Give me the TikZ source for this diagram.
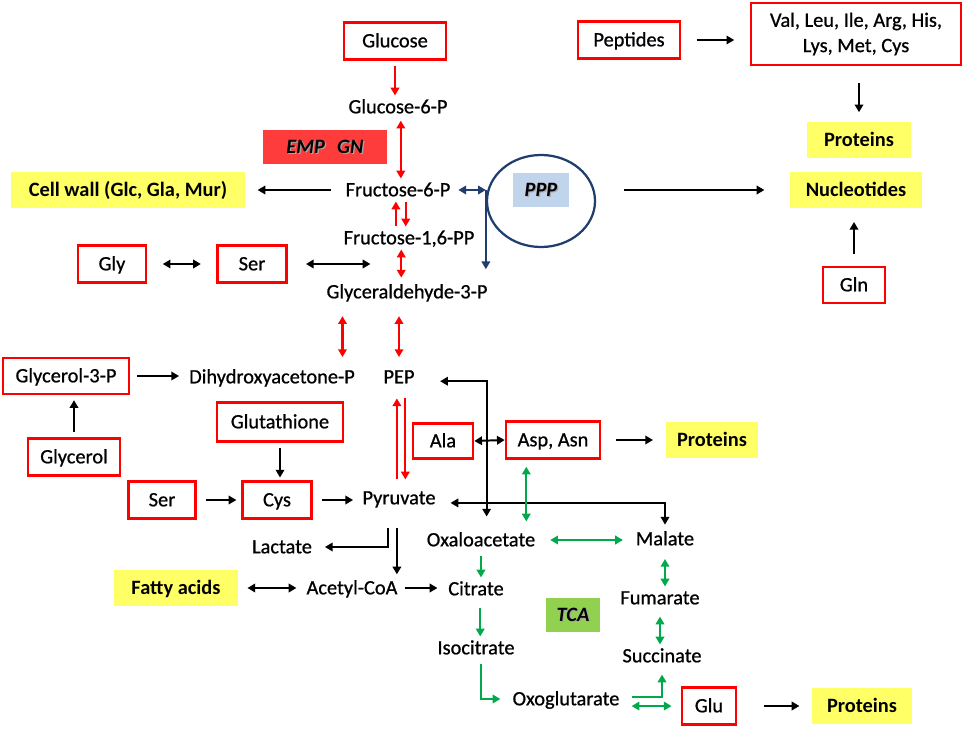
\documentclass[tikz,border=0pt]{standalone}
\usepackage{fontspec}
\setmainfont{Carlito}
\newfontfamily\lblfont{Carlito}[FakeBold=0.8]
\usetikzlibrary{arrows.meta,calc,shapes.geometric}
\definecolor{boxred}{RGB}{255,0,0}
\definecolor{yfill}{RGB}{255,255,102}
\definecolor{empfill}{RGB}{255,60,60}
\definecolor{pppfill}{RGB}{192,212,236}
\definecolor{tcafill}{RGB}{146,208,80}
\definecolor{tcaline}{RGB}{0,170,75}
\definecolor{navy}{RGB}{31,62,110}
\def\shadowlbl#1{\makebox[0pt][l]{\kern0.9pt\raisebox{-0.9pt}{\textcolor{black!35}{#1}}}#1}

\tikzset{
  base/.style={font=\fontsize{14.5}{18}\lblfont, inner sep=2pt},
  txt/.style={base, text height=10.5pt, text depth=1.5pt},
  rbox/.style={txt, draw=boxred, line width=1.8pt, minimum width=#1, minimum height=0.92cm},
  ybox/.style={txt, fill=yfill, font=\fontsize{14.5}{18}\selectfont\bfseries, minimum width=#1, minimum height=0.88cm},
  tagbox/.style 2 args={txt, fill=#1, minimum width=#2, minimum height=0.87cm,
    font=\fontsize{14.5}{18}\selectfont\bfseries\itshape},
  blkar/.style={line width=1.4pt, black},
  redar/.style={line width=1.5pt, boxred},
  grnar/.style={line width=1.5pt, tcaline},
  bluar/.style={line width=1.5pt, navy},
}

\begin{document}
\begin{tikzpicture}[x=0.025cm, y=-0.025cm, >={Triangle[length=5.5pt,width=6pt]}]
  \useasboundingbox (0,0) rectangle (964,728);
  %%%%% GLYCOLYSIS %%%%%
  \node[rbox=2.55cm] (glc) at (395,41) {Glucose};
  \node[txt] (glcsix) at (398,107) {Glucose-6-P};
  \node[tagbox={empfill}{3.08cm}] (emp) at (325,147) {\shadowlbl{EMP\hspace{0.6em}GN}};
  \node[txt] (fru) at (398,190) {Fructose-6-P};
  \node[txt] (frupp) at (409,238) {Fructose-1,6-PP};
  \node[txt] (gap) at (407,292) {Glyceraldehyde-3-P};
  \node[txt] (dhap) at (272,377) {Dihydroxyacetone-P};
  \node[txt] (pep) at (399,377) {PEP};
  \node[txt] (pyr) at (399,498) {Pyruvate};
  \node[txt] (lac) at (282,547) {Lactate};
  \node[txt] (accoa) at (352,588) {Acetyl-CoA};
  \node[ybox=5.83cm] (cellwall) at (128,190) {Cell wall (Glc, Gla, Mur)};
  \node[ybox=3.1cm] (fatty) at (176,588) {Fatty acids};

  %%%%% PPP %%%%%
  \node[ellipse, draw=navy, line width=1.6pt, minimum width=2.7cm, minimum height=2.3cm] (ppp) at (541,201) {};
  \node[tagbox={pppfill}{1.4cm}] (pppl) at (541,190) {\shadowlbl{PPP}};
  \node[ybox=3.3cm] (nucl) at (856,190) {Nucleotides};
  \node[ybox=2.6cm] (prottop) at (859,140) {Proteins};
  \node[rbox=2.55cm] (pept) at (629,40) {Peptides};
  \node[base, draw=boxred, line width=1.8pt, minimum width=5.25cm, minimum height=1.55cm, align=center] (aa) at (856,34)
    {Val, Leu, Ile, Arg, His,\\Lys, Met, Cys};
  \node[rbox=1.55cm, minimum height=0.9cm] (gln) at (854,285) {Gln};

  %%%%% AMINO ACIDS %%%%%
  \node[rbox=1.7cm] (gly) at (112,264) {Gly};
  \node[rbox=1.72cm] (sertop) at (252,264) {Ser};
  \node[rbox=3.15cm, minimum height=0.9cm] (glycthree) at (66,376) {Glycerol-3-P};
  \node[rbox=2.3cm] (glyc) at (74,457) {Glycerol};
  \node[rbox=3.15cm, minimum height=0.97cm] (gsh) at (280,422) {Glutathione};
  \node[rbox=1.68cm] (serlow) at (162,500) {Ser};
  \node[rbox=1.72cm] (cys) at (277,500) {Cys};
  \node[rbox=1.5cm, minimum height=0.88cm] (ala) at (443,441) {Ala};
  \node[rbox=2.35cm] (asp) at (553,440) {Asp, Asn};
  \node[ybox=2.3cm, minimum height=0.9cm] (protmid) at (712,440) {Proteins};

  %%%%% TCA %%%%%
  \node[txt] (oaa) at (481,540) {Oxaloacetate};
  \node[txt] (mal) at (665,539) {Malate};
  \node[txt] (cit) at (476,589) {Citrate};
  \node[tagbox={tcafill}{1.35cm}] (tca) at (573,615) {\shadowlbl{TCA}};
  \node[txt] (fum) at (660,598) {Fumarate};
  \node[txt] (iso) at (476,648) {Isocitrate};
  \node[txt] (suc) at (662,656) {Succinate};
  \node[txt] (oxo) at (566,699) {Oxoglutarate};
  \node[rbox=1.35cm] (glu) at (709,706) {Glu};
  \node[ybox=2.48cm] (protbot) at (862,706) {Proteins};

  %%%%% ARROWS %%%%%
  \draw[redar, ->, shorten <=3.5pt] (glc.south) -- (glc.south |- glcsix.north);
  \draw[redar, <->, shorten <=1.5pt] ([xshift=2pt]glcsix.south) -- ([xshift=2pt]glcsix.south |- fru.north);
  \draw[redar, ->] ([xshift=-1.5pt]fru.south |- frupp.north) -- ([xshift=-1.5pt]fru.south);
  \draw[redar, ->] ([xshift=5.5pt]fru.south) -- ([xshift=5.5pt]fru.south |- frupp.north);
  \draw[redar, <->, shorten >=2pt] ([xshift=-5.5pt]frupp.south) -- ([xshift=-5.5pt]frupp.south |- gap.north);
  \draw[redar, <->, shorten <=9pt, shorten >=6pt] ([xshift=13.5pt]gap.south west) -- ([xshift=13.5pt]gap.south west |- dhap.north);
  \draw[redar, <->, shorten <=9pt, shorten >=6pt] (pep.north |- gap.south) -- (pep.north);
  \draw[redar, ->, shorten <=5pt, shorten >=7pt] ([xshift=-1.5pt]pyr.north) -- ([xshift=-1.5pt]pyr.north |- pep.south);
  \draw[redar, ->, shorten <=7pt, shorten >=5pt] ([xshift=4.5pt]pep.south) -- ([xshift=4.5pt]pep.south |- pyr.north);

  \draw[bluar, <->, shorten <=3.5pt] (fru.east) -- (fru.east -| ppp.west);
  \draw[bluar, ->, shorten >=8pt] (fru.east -| ppp.west) -- (ppp.west |- gap.north);

  \draw[blkar, ->, line width=2pt, shorten <=8.5pt, shorten >=9pt] (fru.west) -- (cellwall.east);
  \draw[blkar, ->, line width=2pt, shorten <=20pt, shorten >=18pt] (ppp.east |- nucl.west) -- (nucl.west);
  \draw[blkar, ->, shorten <=11pt, shorten >=11pt] (pept.east) -- (pept.east -| aa.west);
  \draw[blkar, ->, shorten <=12pt, shorten >=7pt] (aa.south -| prottop.north) -- (prottop.north);
  \draw[blkar, ->, shorten <=8pt, shorten >=10pt] (gln.north) -- (gln.north |- nucl.south);
  \draw[blkar, <->, shorten <=11pt, shorten >=11pt] (gly.east) -- (sertop.west);
  \draw[blkar, <->, shorten <=13pt] (sertop.east) -- ([xshift=-26pt]sertop.east -| gap.center);
  \draw[blkar, ->, shorten <=5pt, shorten >=5pt] (glycthree.east) -- (glycthree.east -| dhap.west);
  \draw[blkar, ->, shorten <=3.5pt, shorten >=3.5pt] (glyc.north) -- (glyc.north |- glycthree.south);
  \draw[blkar, ->, shorten <=3.5pt, shorten >=2pt] (gsh.south) -- (gsh.south |- cys.north);
  \draw[blkar, ->, shorten <=6.5pt, shorten >=3.5pt] (serlow.east) -- (cys.west);
  \draw[blkar, ->, shorten <=6.5pt, shorten >=4.5pt] (cys.east) -- (cys.east -| pyr.west);
  \draw[blkar, <->, shorten <=16pt, shorten >=8.5pt] ([yshift=-3pt]pep.east) -| ([xshift=4pt]oaa.north);
  \draw[blkar, <->] (ala.east) -- (asp.west);
  \draw[blkar, ->, shorten <=10.5pt, shorten >=9pt] (asp.east) -- (protmid.west);
  \draw[blkar, <->, shorten <=8.5pt, shorten >=2pt] ([yshift=-3.5pt]pyr.east) -| (mal.north);
  \draw[blkar, ->, shorten <=13pt, shorten >=7pt] ([xshift=-8pt]pyr.south) |- (lac.east);
  \draw[blkar, ->, shorten <=13pt, shorten >=1.5pt] ([xshift=-1.5pt]pyr.south) -- ([xshift=-1.5pt]pyr.south |- accoa.north);
  \draw[blkar, <->, shorten <=6.5pt, shorten >=5pt] (fatty.east) -- (accoa.west);
  \draw[blkar, ->, shorten <=3pt, shorten >=5.5pt] (accoa.east) -- (accoa.east -| cit.west);
  \draw[blkar, ->, shorten <=19pt, shorten >=9pt] (glu.east) -- (protbot.west);

  \draw[grnar, <->, shorten <=5pt, shorten >=5pt] ([xshift=-19pt]asp.south) -- ([xshift=-19pt]asp.south |- oaa.north);
  \draw[grnar, <->, shorten <=8.5pt, shorten >=7pt] (oaa.east) -- (oaa.east -| mal.west);
  \draw[grnar, ->, shorten <=3.5pt] (oaa.south) -- (oaa.south |- cit.north);
  \draw[grnar, ->, shorten <=5.5pt] ([xshift=3pt]cit.south) -- ([xshift=3pt]cit.south |- iso.north);
  \draw[grnar, ->, shorten <=3.5pt, shorten >=6.5pt] ([xshift=3.5pt]iso.south) |- (oxo.west);
  \draw[grnar, ->, shorten <=6.5pt, shorten >=5pt] ([yshift=1.5pt]oxo.east) -| (suc.south);
  \draw[grnar, <->, shorten <=6.5pt, shorten >=6.5pt] ([yshift=-5pt]oxo.east) -- ([yshift=-5pt]oxo.east -| glu.west);
  \draw[grnar, <->, shorten <=6pt] (mal.south) -- (mal.south |- fum.north);
  \draw[grnar, <->, shorten <=5pt] (fum.south) -- (fum.south |- suc.north);
\end{tikzpicture}
\end{document}
